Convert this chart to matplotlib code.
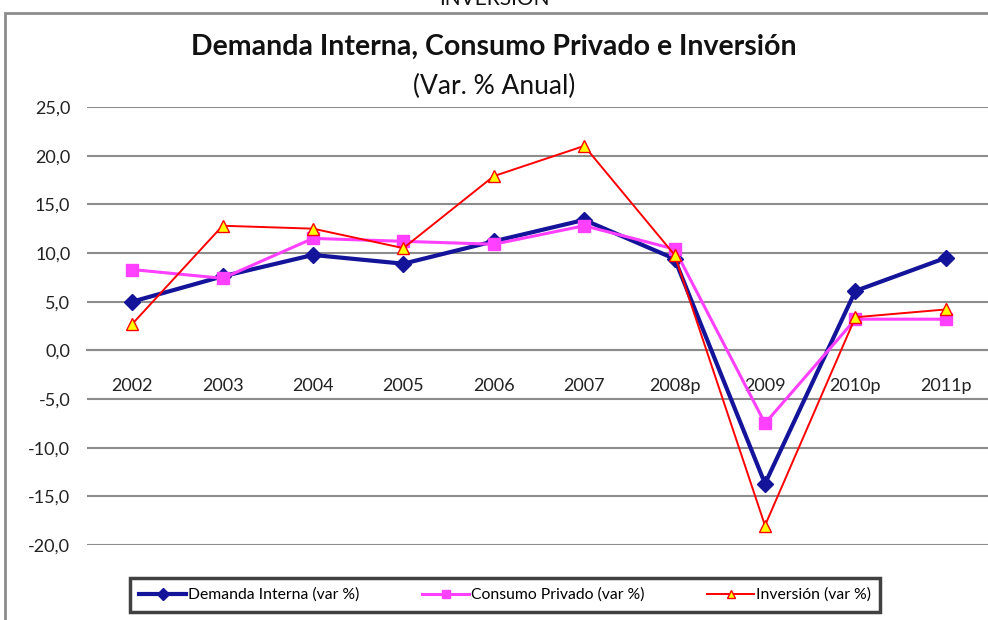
import matplotlib
matplotlib.use("Agg")
import matplotlib.pyplot as plt
from matplotlib.patches import Rectangle

# data
years = ["2002", "2003", "2004", "2005", "2006", "2007", "2008p", "2009", "2010p", "2011p"]
demanda_interna = [5.0, 7.6, 9.8, 8.9, 11.2, 13.4, 9.4, -13.7, 6.1, 9.5]
consumo_privado = [8.3, 7.4, 11.5, 11.2, 10.9, 12.8, 10.4, -7.5, 3.2, 3.2]
inversion = [2.7, 12.8, 12.5, 10.5, 17.9, 21.0, 9.8, -18.0, 3.4, 4.2]
y_ticks = [25, 20, 15, 10, 5, 0, -5, -10, -15, -20]

plt.rcParams["font.family"] = ["Lato", "DejaVu Sans"]

fig = plt.figure(figsize=(9.88, 6.2), dpi=100)
ax = fig.add_axes([87 / 988, 1 - 545 / 620, 904 / 988, 438 / 620])

x = list(range(len(years)))
ax.plot(x, demanda_interna, color="#14149a", lw=3, marker="D", ms=8,
        label="Demanda Interna (var %)", zorder=3)
ax.plot(x, consumo_privado, color="#ff40ff", lw=2.2, marker="s", ms=8,
        label="Consumo Privado (var %)", zorder=4)
ax.plot(x, inversion, color="#ff0000", lw=1.4, marker="^", ms=8.5,
        mfc="#ffff00", mec="#ff0000", mew=1, label="Inversión (var %)", zorder=5)

ax.set_xlim(-0.5, len(years) - 0.5)
ax.set_ylim(-20, 25)
# x axis sits on the zero line, like the Excel original
ax.spines["bottom"].set_position(("data", 0))
ax.set_yticks(y_ticks)
ax.set_yticklabels([f"{v:.1f}".replace(".", ",") for v in y_ticks], fontsize=13, color="#222222")
ax.set_xticks(x)
ax.set_xticklabels(years, fontsize=13, color="#222222")
ax.tick_params(axis="y", length=0, pad=12)
ax.tick_params(axis="x", length=0, pad=20)
for side in ["top", "right", "left"]:
    ax.spines[side].set_visible(False)
ax.spines["bottom"].set_color("#8c8c8c")
ax.spines["bottom"].set_linewidth(1.5)
ax.grid(axis="y", color="#8c8c8c", lw=1.5)
ax.set_axisbelow(True)

fig.text(0.5, 1 - 47 / 620, "Demanda Interna, Consumo Privado e Inversión",
         ha="center", va="center", fontsize=20.5, fontweight="bold", color="#111111")
fig.text(0.5, 1 - 86 / 620, "(Var. % Anual)", ha="center", va="center",
         fontsize=19, color="#111111")
fig.text(0.5, 1 + 1 / 620, "INVERSIÓN", ha="center", va="center", fontsize=15, color="#111111")

# outer chart border
fig.patches.append(Rectangle((5 / 988, -0.05), 1.0, 1 - 13 / 620 + 0.05,
                             transform=fig.transFigure, fill=False,
                             edgecolor="#8c8c8c", lw=2))

leg = fig.legend(loc="center", bbox_to_anchor=(505 / 988, 1 - 595 / 620), ncol=3,
                 fontsize=11.3, frameon=True, fancybox=False, handlelength=3,
                 columnspacing=4.0, borderpad=0.6, handletextpad=0.1, markerscale=0.75)
leg.get_frame().set_edgecolor("#111111")
leg.get_frame().set_linewidth(2.5)

fig.savefig("out.png", dpi=100)
